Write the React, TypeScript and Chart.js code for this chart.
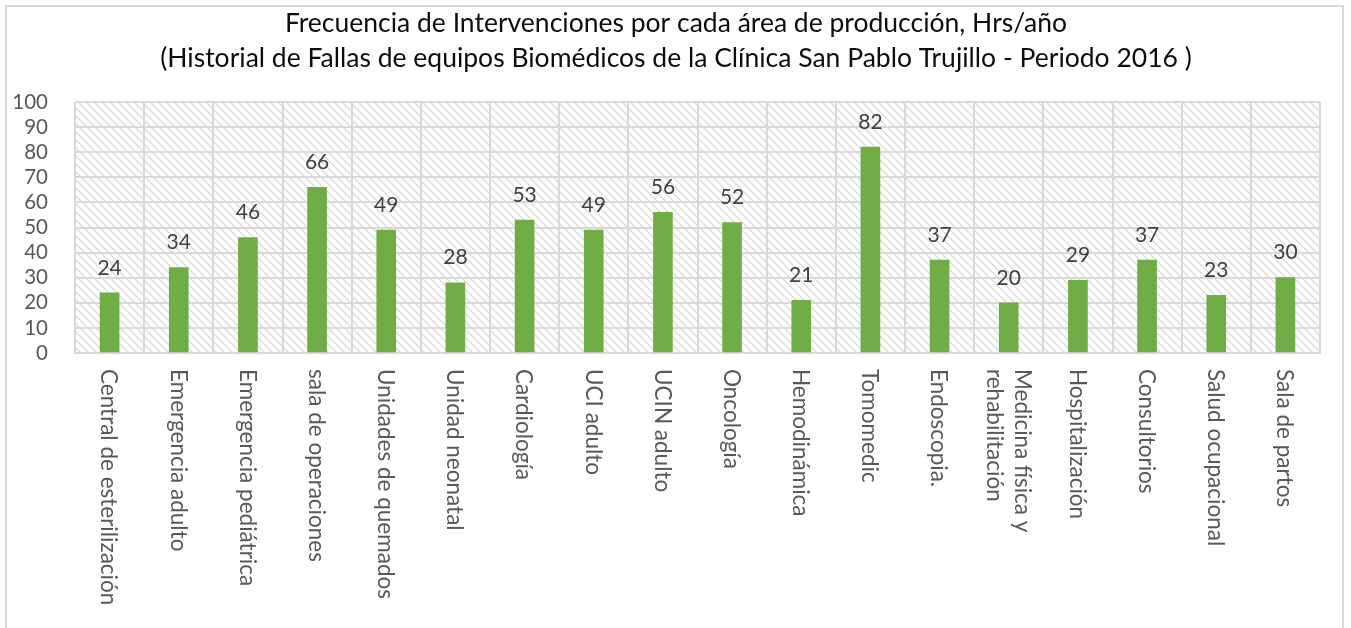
import React, { useEffect, useRef } from "react";
import { Chart, registerables } from "chart.js";

Chart.register(...registerables);

const categories: string[][] = [
  ["Central de esterilización"],
  ["Emergencia adulto"],
  ["Emergencia pediátrica"],
  ["sala de operaciones"],
  ["Unidades de quemados"],
  ["Unidad neonatal"],
  ["Cardiología"],
  ["UCI adulto"],
  ["UCIN adulto"],
  ["Oncología"],
  ["Hemodinámica"],
  ["Tomomedic"],
  ["Endoscopia."],
  ["Medicina física y", "rehabilitación"],
  ["Hospitalización"],
  ["Consultorios"],
  ["Salud ocupacional"],
  ["Sala de partos"],
];

const values: number[] = [24, 34, 46, 66, 49, 28, 53, 49, 56, 52, 21, 82, 37, 20, 29, 37, 23, 30];

const titleLines: string[] = [
  "Frecuencia de Intervenciones por cada área de producción, Hrs/año",
  "(Historial de Fallas de equipos Biomédicos de la Clínica San Pablo Trujillo - Periodo 2016 )",
];

const yMin = 0;
const yMax = 100;
const yStep = 10;

const FONT = "Lato, 'Open Sans', sans-serif";

function makePattern(): CanvasPattern | string {
  const c = document.createElement("canvas");
  c.width = 8;
  c.height = 8;
  const g = c.getContext("2d");
  if (!g) return "#ffffff";
  g.fillStyle = "#ffffff";
  g.fillRect(0, 0, 8, 8);
  g.strokeStyle = "#dadada";
  g.lineWidth = 1.3;
  g.beginPath();
  g.moveTo(-1, -1);
  g.lineTo(9, 9);
  g.moveTo(-5, 3);
  g.lineTo(5, 13);
  g.moveTo(3, -5);
  g.lineTo(13, 5);
  g.stroke();
  const p = g.createPattern(c, "repeat");
  return p || "#ffffff";
}

export default function App() {
  const ref = useRef<HTMLCanvasElement | null>(null);

  useEffect(() => {
    if (!ref.current) return;
    const pattern = makePattern();

    const bgPlugin = {
      id: "bgHatch",
      beforeDraw(chart: any) {
        const { ctx, chartArea } = chart;
        ctx.save();
        ctx.fillStyle = pattern;
        ctx.fillRect(chartArea.left, chartArea.top, chartArea.right - chartArea.left, chartArea.bottom - chartArea.top);
        ctx.restore();
      },
    };

    const textPlugin = {
      id: "customText",
      afterDraw(chart: any) {
        const { ctx } = chart;
        const xs = chart.scales.x;
        const ys = chart.scales.y;
        ctx.save();
        // title
        ctx.fillStyle = "#0d0d0d";
        ctx.font = `26.5px ${FONT}`;
        ctx.textAlign = "center";
        ctx.textBaseline = "middle";
        ctx.fillText(titleLines[0], 676, 23);
        ctx.fillText(titleLines[1], 676, 58);

        // data labels
        ctx.fillStyle = "#404040";
        ctx.font = `21px ${FONT}`;
        ctx.textAlign = "center";
        ctx.textBaseline = "middle";
        values.forEach((v, i) => {
          const x = xs.getPixelForValue(i);
          const y = ys.getPixelForValue(v);
          ctx.fillText(String(v), x, y - 25);
        });

        // category labels, rotated clockwise
        ctx.fillStyle = "#595959";
        ctx.font = `22.5px ${FONT}`;
        ctx.textAlign = "left";
        ctx.textBaseline = "middle";
        categories.forEach((lines, i) => {
          const x = xs.getPixelForValue(i);
          ctx.save();
          ctx.translate(x, 369);
          ctx.rotate(Math.PI / 2);
          const n = lines.length;
          const lh = 28;
          lines.forEach((ln, j) => {
            const off = (j - (n - 1) / 2) * lh;
            ctx.fillText(ln, 0, off + 1);
          });
          ctx.restore();
        });
        ctx.restore();
      },
    };

    const chart = new Chart(ref.current, {
      type: "bar",
      data: {
        labels: categories.map((c) => c.join(" ")),
        datasets: [
          {
            data: values,
            backgroundColor: "#70AD47",
            borderWidth: 0,
            barThickness: 19,
          },
        ],
      },
      plugins: [bgPlugin, textPlugin],
      options: {
        animation: false,
        responsive: false,
        maintainAspectRatio: false,
        layout: { padding: { left: 0, right: 31, top: 102, bottom: 0 } },
        plugins: {
          legend: { display: false },
          title: { display: false },
          tooltip: { enabled: false },
        },
        scales: {
          x: {
            grid: { color: "#d9d9d9", lineWidth: 2, drawTicks: false, offset: true },
            border: { color: "#d9d9d9", width: 2 },
            ticks: { display: false },
            afterFit(scale: any) {
              scale.height = 628 - 353;
            },
          },
          y: {
            min: yMin,
            max: yMax,
            grid: { color: "#d9d9d9", lineWidth: 2, drawTicks: false },
            border: { display: false },
            ticks: {
              stepSize: yStep,
              autoSkip: false,
              padding: 27,
              color: "#595959",
              font: { family: FONT, size: 20.5 },
            },
            afterFit(scale: any) {
              scale.width = 75;
            },
          },
        },
      },
    });
    return () => chart.destroy();
  }, []);

  return (
    <div style={{ position: "fixed", left: 0, top: 0, width: 1351, height: 628, background: "#ffffff", overflow: "hidden" }}>
      <canvas ref={ref} width={1351} height={628} style={{ position: "absolute", left: 0, top: 0, width: 1351, height: 628 }} />
      <div
        style={{
          position: "absolute",
          left: 5,
          top: 5,
          width: 1339,
          height: 640,
          border: "2px solid #d9d9d9",
          boxSizing: "border-box",
          pointerEvents: "none",
        }}
      />
    </div>
  );
}
